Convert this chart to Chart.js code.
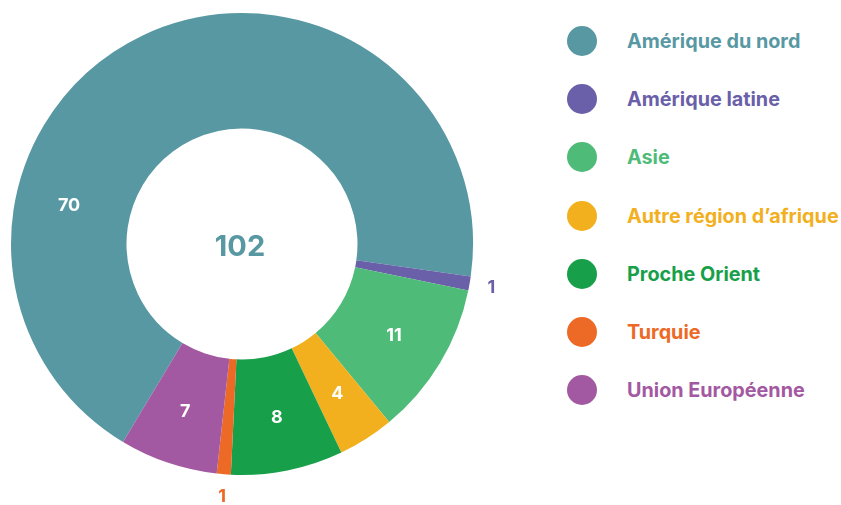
<!DOCTYPE html>
<html>
<head>
<meta charset="utf-8">
<script src="https://cdn.jsdelivr.net/npm/chart.js@4.4.0/dist/chart.umd.min.js"></script>
<style>
  html, body { margin: 0; padding: 0; background: #fff; }
  body { width: 841px; height: 505px; position: relative; overflow: hidden; font-family: Inter, "Open Sans", sans-serif; }
  #wrap { position: absolute; left: 0; top: 0; width: 540px; height: 505px; }
  #legend { position: absolute; left: 567px; top: 11.5px; margin: 0; padding: 0; list-style: none; }
  #legend li { display: flex; align-items: center; height: 58.3px; font-weight: 700; font-size: 19.8px; white-space: nowrap; }
  #legend .dot { width: 30px; height: 30px; border-radius: 50%; margin-right: 30px; flex: none; }
</style>
</head>
<body>
<div id="wrap"><canvas id="donut"></canvas></div>
<ul id="legend"></ul>
<script>
// data
const regions = ["Amérique du nord", "Amérique latine", "Asie", "Autre région d’afrique", "Proche Orient", "Turquie", "Union Européenne"];
const counts = [70, 1, 11, 4, 8, 1, 7];
const colors = ["#5898a3", "#6a60a9", "#4fbb78", "#f2b01e", "#189f49", "#ec6a26", "#a359a1"];

// -------- value labels + total in the hole --------
const sliceLabels = {
  id: "sliceLabels",
  afterDatasetsDraw(chart) {
    const ctx = chart.ctx;
    const meta = chart.getDatasetMeta(0);
    ctx.save();
    ctx.textAlign = "center";
    ctx.textBaseline = "middle";
    ctx.font = "700 18px Inter";
    meta.data.forEach((arc, i) => {
      const p = arc.getProps(["x", "y", "startAngle", "endAngle", "innerRadius", "outerRadius"], true);
      const small = counts[i] <= 1;
      // the big slice has its label pushed toward its start
      const t = i === 0 ? 0.29 : 0.5;
      const a = p.startAngle + (p.endAngle - p.startAngle) * t;
      const r = small ? p.outerRadius + 22 : (p.innerRadius + p.outerRadius) / 2 + 4;
      ctx.fillStyle = small ? colors[i] : "#fff";
      ctx.fillText(String(counts[i]), p.x + Math.cos(a) * r, p.y + Math.sin(a) * r);
    });

    const total = counts.reduce((s, v) => s + v, 0);
    ctx.font = "700 29px Inter";
    ctx.fillStyle = colors[0];
    ctx.fillText(String(total), meta.data[0].x - 2, meta.data[0].y + 3);
    ctx.restore();
  }
};

const chart = new Chart(document.getElementById("donut"), {
  type: "doughnut",
  data: {
    labels: regions,
    datasets: [{
      data: counts,
      backgroundColor: colors,
      borderWidth: 0,
      hoverOffset: 0
    }]
  },
  options: {
    responsive: true,
    maintainAspectRatio: false,
    animation: false,
    cutout: "50%",
    rotation: 211,
    layout: { padding: { top: 13, bottom: 30, left: 11, right: 67 } },
    plugins: {
      legend: { display: false },
      tooltip: { enabled: false }
    }
  },
  plugins: [sliceLabels]
});

// -------- legend --------
const legendEl = document.getElementById("legend");
regions.forEach((name, i) => {
  const li = document.createElement("li");
  li.style.color = colors[i];
  li.innerHTML = `<span class="dot" style="background:${colors[i]}"></span><span>${name}</span>`;
  legendEl.appendChild(li);
});
</script>
</body>
</html>
